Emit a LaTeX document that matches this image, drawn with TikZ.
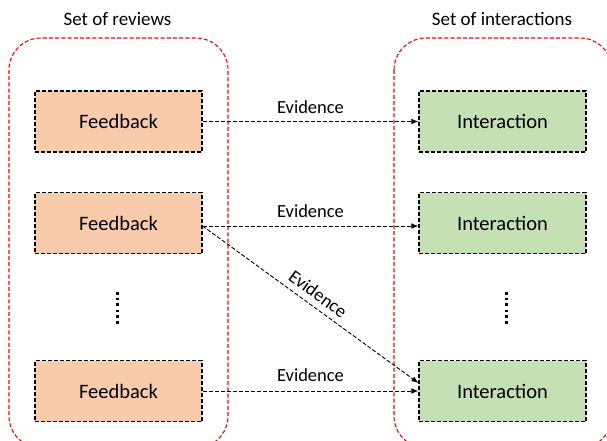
\documentclass[tikz,border=0pt]{standalone}
\usepackage{fontspec}
\setmainfont{Carlito}
\usetikzlibrary{arrows.meta}
\definecolor{fborange}{HTML}{F8CBAD}
\definecolor{intgreen}{HTML}{C5E0B4}
\tikzset{
  container/.style={draw=red, line width=1.1pt, dash pattern=on 4pt off 2.2pt, rounded corners=32pt},
  fbbox/.style={draw=black, fill=fborange, line width=1.1pt, dash pattern=on 4pt off 2pt, minimum width=167pt, minimum height=61pt, font=\fontsize{20.5}{24}\selectfont, inner sep=0pt},
  intbox/.style={fbbox, fill=intgreen},
  evarrow/.style={draw=black, line width=0.9pt, dash pattern=on 4pt off 2pt, -{Latex[length=7pt,width=5.5pt]}},
  evlabel/.style={font=\fontsize{18.5}{22}\selectfont, inner sep=0pt},
  title/.style={font=\fontsize{19}{22}\selectfont, inner sep=0pt},
  dotmark/.style={fill=black, minimum size=2.6pt, inner sep=0pt, draw=none, rectangle}
}
\begin{document}
\begin{tikzpicture}[x=1pt,y=-1pt]
\useasboundingbox (0,0) rectangle (607,441);
\clip (0,0) rectangle (607,441);
\fill[white] (0,0) rectangle (607,441);
% containers
\draw[container] (9,38) rectangle (228,448);
\draw[container] (394,38) rectangle (612,448);
% titles
\node[title] (t1) at (117.5,19) {Set of reviews};
\node[title] (t2) at (502,19) {Set of interactions};
% boxes
\node[fbbox] (f1) at (118.5,121.5) {Feedback};
\node[fbbox] (f2) at (118.5,223) {Feedback};
\node[fbbox] (f3) at (118.5,391) {Feedback};
\node[intbox] (i1) at (502.5,121.5) {Interaction};
\node[intbox] (i2) at (502.5,223) {Interaction};
\node[intbox] (i3) at (502.5,391) {Interaction};
% dots
\foreach \yy [count=\k] in {293.3,299,304.5,311,316.7,322.3}{
  \node[dotmark] (ld\k) at (117.5,\yy) {};
  \node[dotmark] (rd\k) at (506.7,\yy) {};
}
% arrows
\draw[evarrow] (f1.east) -- node[evlabel, above=7pt] (e1) {Evidence} (i1.west);
\draw[evarrow] ([yshift=-3pt]f2.east) -- node[evlabel, above=8pt] (e2) {Evidence} ([yshift=-3pt]i2.west);
\draw[evarrow] (f3.east) -- node[evlabel, above=9pt] (e3) {Evidence} (i3.west);
\draw[evarrow] ([yshift=-3pt]f2.east) -- node[evlabel, sloped, above=6pt] (e4) {Evidence} ([yshift=8pt]i3.west);
\end{tikzpicture}
\end{document}
